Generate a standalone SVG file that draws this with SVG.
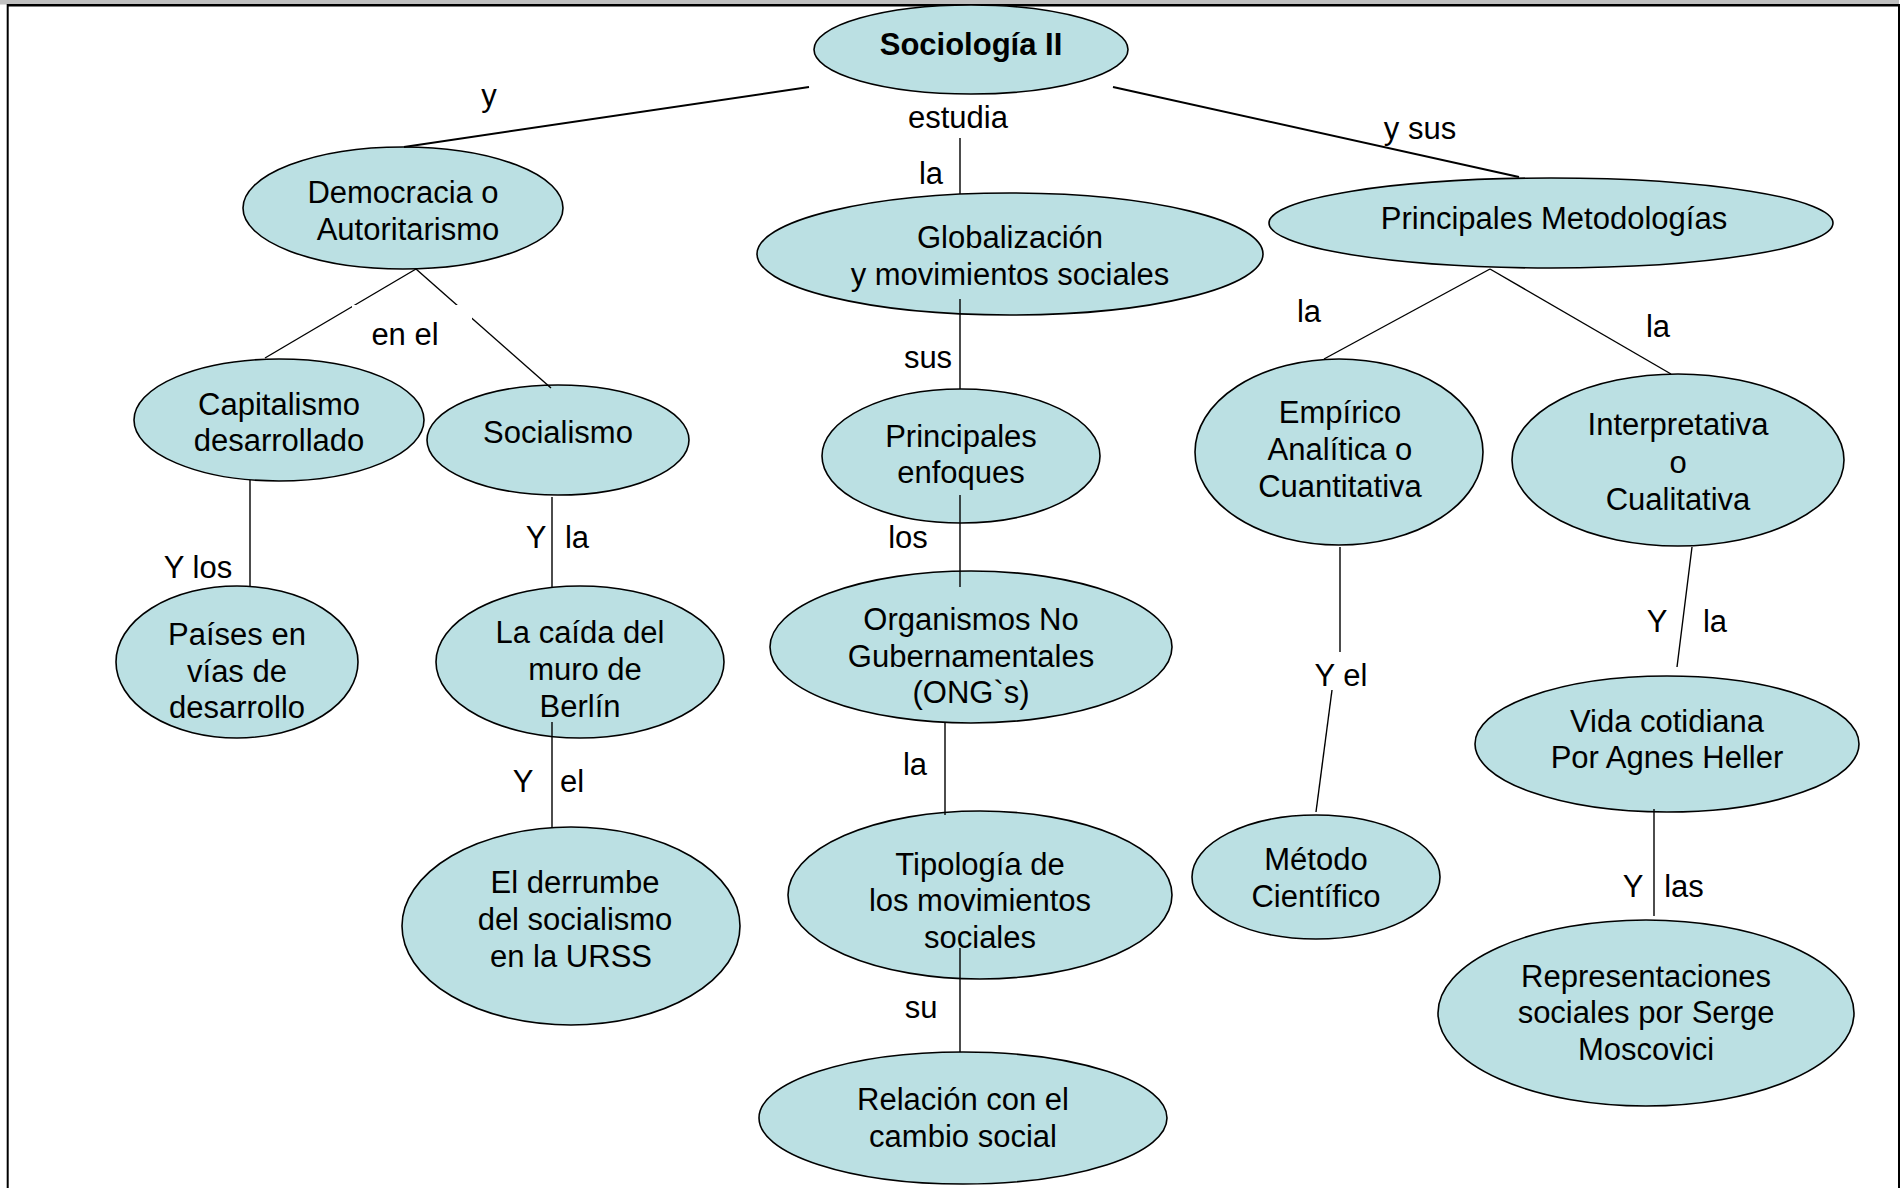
<svg xmlns="http://www.w3.org/2000/svg" width="1902" height="1188" viewBox="0 0 1902 1188">
<style>
.n{fill:#BBE0E3;stroke:#000;stroke-width:1.6}
.t{font-family:"Liberation Sans",Arial,sans-serif;font-size:31px;fill:#000;text-anchor:middle}
.b{font-weight:bold}
.c line{stroke:#000;stroke-width:1.4}
.c line.k{stroke-width:2}
</style>
<rect x="0" y="0" width="1902" height="1188" fill="#fff"/>
<rect x="0" y="0" width="1899" height="4.5" fill="#c0c0c0"/>
<line x1="7.7" y1="5.3" x2="1900" y2="5.3" stroke="#000" stroke-width="2.5"/>
<line x1="7.7" y1="4" x2="7.7" y2="1188" stroke="#000" stroke-width="2"/>
<line x1="1899" y1="4" x2="1899" y2="1188" stroke="#000" stroke-width="2"/>

<g id="n-sociologia"><ellipse class="n" cx="971" cy="49.5" rx="157" ry="44.5"/><text class="t b" x="971" y="55">Sociología II</text></g>
<g id="n-democracia"><ellipse class="n" cx="403" cy="208" rx="160" ry="61"/><text class="t" x="403" y="203">Democracia o</text><text class="t" x="408" y="240">Autoritarismo</text></g>
<g id="n-globalizacion"><ellipse class="n" cx="1010" cy="254" rx="253" ry="61"/><text class="t" x="1010" y="248">Globalización</text><text class="t" x="1010" y="285">y movimientos sociales</text></g>
<g id="n-metodologias"><ellipse class="n" cx="1551" cy="223" rx="282" ry="45"/><text class="t" x="1554" y="229">Principales Metodologías</text></g>
<g id="n-capitalismo"><ellipse class="n" cx="279" cy="420" rx="145" ry="61"/><text class="t" x="279" y="415">Capitalismo</text><text class="t" x="279" y="451">desarrollado</text></g>
<g id="n-socialismo"><ellipse class="n" cx="558" cy="440" rx="131" ry="55"/><text class="t" x="558" y="443">Socialismo</text></g>
<g id="n-enfoques"><ellipse class="n" cx="961" cy="456" rx="139" ry="67"/><text class="t" x="961" y="447">Principales</text><text class="t" x="961" y="483">enfoques</text></g>
<g id="n-empirico"><ellipse class="n" cx="1339" cy="452" rx="144" ry="93"/><text class="t" x="1340" y="423">Empírico</text><text class="t" x="1340" y="460">Analítica o</text><text class="t" x="1340" y="497">Cuantitativa</text></g>
<g id="n-interpretativa"><ellipse class="n" cx="1678" cy="460" rx="166" ry="86"/><text class="t" x="1678" y="435">Interpretativa</text><text class="t" x="1678" y="473">o</text><text class="t" x="1678" y="510">Cualitativa</text></g>
<g id="n-paises"><ellipse class="n" cx="237" cy="662" rx="121" ry="76"/><text class="t" x="237" y="645">Países en</text><text class="t" x="237" y="682">vías de</text><text class="t" x="237" y="718">desarrollo</text></g>
<g id="n-caida"><ellipse class="n" cx="580" cy="662" rx="144" ry="76"/><text class="t" x="580" y="643">La caída del</text><text class="t" x="585" y="680">muro de</text><text class="t" x="580" y="717">Berlín</text></g>
<g id="n-ong"><ellipse class="n" cx="971" cy="647" rx="201" ry="76"/><text class="t" x="971" y="630">Organismos No</text><text class="t" x="971" y="667">Gubernamentales</text><text class="t" x="971" y="703">(ONG`s)</text></g>
<g id="n-vida"><ellipse class="n" cx="1667" cy="744" rx="192" ry="68"/><text class="t" x="1667" y="732">Vida cotidiana</text><text class="t" x="1667" y="768">Por Agnes Heller</text></g>
<g id="n-derrumbe"><ellipse class="n" cx="571" cy="926" rx="169" ry="99"/><text class="t" x="575" y="893">El derrumbe</text><text class="t" x="575" y="930">del socialismo</text><text class="t" x="571" y="967">en la URSS</text></g>
<g id="n-tipologia"><ellipse class="n" cx="980" cy="895" rx="192" ry="84"/><text class="t" x="980" y="875">Tipología de</text><text class="t" x="980" y="911">los movimientos</text><text class="t" x="980" y="948">sociales</text></g>
<g id="n-metodo"><ellipse class="n" cx="1316" cy="877" rx="124" ry="62"/><text class="t" x="1316" y="870">Método</text><text class="t" x="1316" y="907">Científico</text></g>
<g id="n-representaciones"><ellipse class="n" cx="1646" cy="1013" rx="208" ry="93"/><text class="t" x="1646" y="987">Representaciones</text><text class="t" x="1646" y="1023">sociales por Serge</text><text class="t" x="1646" y="1060">Moscovici</text></g>
<g id="n-relacion"><ellipse class="n" cx="963" cy="1118" rx="204" ry="66"/><text class="t" x="963" y="1110">Relación con el</text><text class="t" x="963" y="1147">cambio social</text></g>

<g id="connectors" class="c">
<line class="k" x1="809" y1="87" x2="404" y2="147"/>
<line class="k" x1="1113" y1="87" x2="1519" y2="177"/>
<line x1="960" y1="138" x2="960" y2="194"/>
<line x1="960" y1="299" x2="960" y2="389"/>
<line x1="960" y1="495" x2="960" y2="587"/>
<line x1="945" y1="722" x2="945" y2="815"/>
<line x1="960" y1="948" x2="960" y2="1052"/>
<line x1="416" y1="269" x2="265" y2="358"/>
<line x1="416" y1="269" x2="551" y2="388"/>
<line x1="250" y1="480" x2="250" y2="586"/>
<line x1="552" y1="497" x2="552" y2="587"/>
<line x1="552" y1="722" x2="552" y2="828"/>
<line x1="1490" y1="269" x2="1324" y2="359"/>
<line x1="1490" y1="269" x2="1671" y2="374"/>
<line x1="1340" y1="547" x2="1340" y2="652"/>
<line x1="1332" y1="690" x2="1316" y2="812"/>
<line x1="1692" y1="547" x2="1677" y2="667"/>
<line x1="1654" y1="809" x2="1654" y2="916"/>
<rect x="352" y="305" width="120" height="48" fill="#fff"/>
</g>

<g id="labels">
<text class="t" x="489" y="106">y</text>
<text class="t" x="958" y="128">estudia</text>
<text class="t" x="1420" y="139">y sus</text>
<text class="t" x="931" y="184">la</text>
<text class="t" x="928" y="368">sus</text>
<text class="t" x="908" y="548">los</text>
<text class="t" x="915" y="775">la</text>
<text class="t" x="921" y="1018">su</text>
<text class="t" x="405" y="345">en el</text>
<text class="t" x="198" y="578">Y los</text>
<text class="t" x="536" y="548">Y</text>
<text class="t" x="577" y="548">la</text>
<text class="t" x="523" y="792">Y</text>
<text class="t" x="572" y="792">el</text>
<text class="t" x="1309" y="322">la</text>
<text class="t" x="1658" y="337">la</text>
<text class="t" x="1341" y="686">Y el</text>
<text class="t" x="1657" y="632">Y</text>
<text class="t" x="1715" y="632">la</text>
<text class="t" x="1633" y="897">Y</text>
<text class="t" x="1684" y="897">las</text>
</g>
</svg>
